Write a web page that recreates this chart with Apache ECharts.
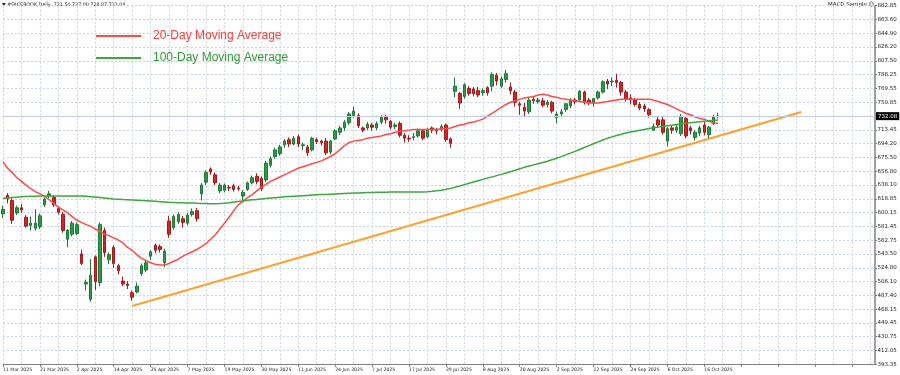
<!DOCTYPE html>
<html><head><meta charset="utf-8">
<script src="https://cdn.jsdelivr.net/npm/echarts@6/dist/echarts.min.js"></script>
<style>html,body{margin:0;padding:0;background:#fff}#c{width:900px;height:375px}</style>
</head><body><div id="c"></div><script>
const dates = [
'11 Mar 2025','12 Mar 2025','13 Mar 2025','14 Mar 2025','17 Mar 2025','18 Mar 2025','19 Mar 2025','20 Mar 2025','21 Mar 2025','24 Mar 2025','25 Mar 2025','26 Mar 2025','27 Mar 2025','28 Mar 2025','31 Mar 2025',
'1 Apr 2025','2 Apr 2025','3 Apr 2025','4 Apr 2025','7 Apr 2025','8 Apr 2025','9 Apr 2025','10 Apr 2025','11 Apr 2025','14 Apr 2025','15 Apr 2025','16 Apr 2025','17 Apr 2025','21 Apr 2025','22 Apr 2025','23 Apr 2025','24 Apr 2025','25 Apr 2025','28 Apr 2025','29 Apr 2025','30 Apr 2025',
'1 May 2025','2 May 2025','5 May 2025','6 May 2025','7 May 2025','8 May 2025','9 May 2025','12 May 2025','13 May 2025','14 May 2025','15 May 2025','16 May 2025','19 May 2025','20 May 2025','21 May 2025','22 May 2025','23 May 2025','27 May 2025','28 May 2025','29 May 2025','30 May 2025',
'2 Jun 2025','3 Jun 2025','4 Jun 2025','5 Jun 2025','6 Jun 2025','9 Jun 2025','10 Jun 2025','11 Jun 2025','12 Jun 2025','13 Jun 2025','16 Jun 2025','17 Jun 2025','18 Jun 2025','20 Jun 2025','23 Jun 2025','24 Jun 2025','25 Jun 2025','26 Jun 2025','27 Jun 2025','30 Jun 2025',
'1 Jul 2025','2 Jul 2025','3 Jul 2025','7 Jul 2025','8 Jul 2025','9 Jul 2025','10 Jul 2025','11 Jul 2025','14 Jul 2025','15 Jul 2025','16 Jul 2025','17 Jul 2025','18 Jul 2025','21 Jul 2025','22 Jul 2025','23 Jul 2025','24 Jul 2025','25 Jul 2025','28 Jul 2025','29 Jul 2025','30 Jul 2025','31 Jul 2025',
'1 Aug 2025','4 Aug 2025','5 Aug 2025','6 Aug 2025','7 Aug 2025','8 Aug 2025','11 Aug 2025','12 Aug 2025','13 Aug 2025','14 Aug 2025','15 Aug 2025','18 Aug 2025','19 Aug 2025','20 Aug 2025','21 Aug 2025','22 Aug 2025','25 Aug 2025','26 Aug 2025','27 Aug 2025','28 Aug 2025','29 Aug 2025',
'2 Sep 2025','3 Sep 2025','4 Sep 2025','5 Sep 2025','8 Sep 2025','9 Sep 2025','10 Sep 2025','11 Sep 2025','12 Sep 2025','15 Sep 2025','16 Sep 2025','17 Sep 2025','18 Sep 2025','19 Sep 2025','22 Sep 2025','23 Sep 2025','24 Sep 2025','25 Sep 2025','26 Sep 2025','29 Sep 2025','30 Sep 2025',
'1 Oct 2025','2 Oct 2025','3 Oct 2025','6 Oct 2025','7 Oct 2025','8 Oct 2025','9 Oct 2025','10 Oct 2025','13 Oct 2025','14 Oct 2025','15 Oct 2025','16 Oct 2025','17 Oct 2025','20 Oct 2025','21 Oct 2025'];

const opens = [599,624,617,600,607,594,583,579,581,611,
623,621,606,598,564,571,572,544,503,482,
540,505,576,536,553,528,507,503,491,492,
517,522,541,556,554,532,589,580,588,592,
586,598,603,626,642,660,652,630,631,635,
637,634,623,632,641,650,647,645,665,677,
681,693,700,694,704,692,690,686,700,698,
698,683,701,710,716,723,733,733,716,716,
720,716,724,731,725,718,722,706,702,703,
705,712,704,716,713,714,720,701,766,763,
759,770,769,767,764,771,773,788,773,782,
772,765,749,744,738,755,752,753,748,751,
730,735,741,746,754,754,765,754,750,757,
765,780,779,781,778,765,757,754,748,746,
741,713,727,727,698,716,713,708,729,716,
703,709,720,707,722,731.5];
const highs = [610,627,620,610,612,597,595,605,599,621,
630,624,609,601,578,589,587,550,509,537,
542,587,580,546,556,530,513,507,494,505,
531,535,549,558,557,551,596,598,601,596,
600,606,607,641,658,662,655,641,640,638,
640,637,631,643,651,654,650,671,677,689,
693,701,703,705,707,696,693,704,703,700,
702,700,714,719,727,738,745,736,718,724,
723,725,734,734,727,723,725,709,706,709,
715,714,716,718,716,721,722,703,785,765,
777,773,772,772,770,773,792,791,786,795,
778,768,752,750,758,759,757,757,754,753,
738,742,750,757,757,768,767,757,757,767,
781,783,785,790,780,768,762,757,751,749,
743,722,731,731,717,719,720,735,731,719,
713,719,724,719,734,737];
const lows = [593,613,585,597,600,580,576,576,578,608,
620,608,598,573,553,568,570,529,494,479,
495,500,540,530,525,516,500,496,480,490,
514,519,536,545,546,526,566,577,585,580,
583,595,588,617,638,652,638,627,628,630,
629,630,617,630,639,639,630,642,662,674,
678,689,690,692,690,686,678,684,694,692,
679,680,699,706,712,720,730,716,710,713,
712,713,721,722,714,714,703,696,697,699,
703,699,702,709,707,711,697,689,758,742,
756,760,759,758,760,760,766,774,770,778,
762,745,734,731,735,749,749,744,744,736,
722,731,738,743,748,752,748,747,745,755,
763,769,773,771,760,752,748,745,740,738,
730,712,716,707,691,708,709,705,702,707,
699,705,706,702,720,728.87];
const closes = [605,619,590,607,604,582,586,586,596,619,
626,611,601,576,576,586,584,531,505,515,
506,584,546,543,531,521,503,501,485,500,
528,532,547,549,550,548,571,595,598,587,
597,602,592,638,655,656,641,638,638,634,
632,633,628,641,648,643,633,668,674,686,
690,698,694,702,694,693,682,702,697,696,
682,698,712,716,724,735,739,719,713,721,
717,722,731,727,717,720,706,702,701,704,
712,702,714,713,712,718,700,695,773,750,
775,763,763,761,767,764,789,780,783,790,
767,751,747,739,754,753,754,747,751,739,
735,738,749,753,752,766,752,751,756,765,
779,776,780,778,765,755,754,748,743,742,
734,718,720,710,715,713,717,732,705,712,
710,716,710,717,731,732.08];

const ma20 = [670,661,655,648,643,638,633,629,626,623,
618,613,608,604,600,595,590,587,584,582,
578,575,571,569,566,563,559,553,549,543,
538,535,532,530,529,529,531,534,537,541,
544,547,550,554,558,564,570,578,586,594,
603,611,616,621,625,630,635,639,643,646,
649,652,655,658,661,663,665,667,669,671,
674,677,681,686,692,696,698,699,700,702,
703,704,705,707,708,710,711,712,713,714,
714,714,714,714,714,715,715,716,718,720,
721,723,724,726,728,732,736,740,744,748,
751,753,755,757,758,759,761,762,761,759,
758,756,755,754,753,752,751,750,750,750,
751,752,753,754,755,755,755,755,755,755,
755,754,752,750,748,745,742,739,736,734,
731,729,728,725,723,722];
const ma100 = [620,620.5,621,621.5,622,622.3,622.6,622.8,623,623,
623,623,623,623,623,623,623,623,622.6,622.2,
621.6,621,620.3,619.6,619,618.6,618.2,617.9,617.6,617.3,
617,616.6,616.2,615.8,615.4,615,614.6,614.3,614,613.8,
613.6,613.4,613.2,613,612.8,612.6,612.5,612.8,613.3,614,
614.8,615.6,616.4,617.2,617.8,618.4,619,619.6,620.2,620.8,
621.4,621.9,622.3,622.7,623.1,623.5,623.9,624.3,624.7,625,
625.3,625.6,625.9,626.2,626.5,626.8,627.1,627.3,627.5,627.7,
627.9,628.1,628.2,628.3,628.4,628.4,628.4,628.4,628.4,628.4,
628.5,628.7,629,629.5,630.2,631,632.2,633.5,635,636.8,
638.6,640.4,642.2,644,645.8,647.5,649.2,650.9,652.6,654.4,
656.3,658.2,660.2,662.2,664,665.6,667.2,668.8,670.6,672.6,
674.6,676.8,679.2,681.6,684,686.6,689.2,691.8,694.4,697,
699.6,701.8,703.8,705.6,707.4,709,710.4,711.6,712.8,714,
715.1,716.1,717.1,718,718.9,719.8,720.7,721.6,722.4,723.1,
723.8,724.5,725.1,725.7,726.2,726.7];

const trendIdx = [28, 173];
const trendVal = [473.0, 737.7];

const yTickLabels = ['393.35','412.05','430.75','449.45','468.15','487.40','506.10','524.80','543.50','562.75','581.45','600.15','618.85','638.10','656.80','675.50','694.20','713.45','732.15','750.85','769.55','788.25','807.50','826.20','844.90','863.60','882.85'];
const lastPrice = 732.08;
const headerText = '\u25BC #FACEBOOK,Daily  731.50 737.00 728.87 732.08';
const cornerText = 'MACD Sample \u263A';
const ma20Name = '20-Day Moving Average';
const ma100Name = '100-Day Moving Average';

const futureSlots = 34;
const cats = dates.concat(Array.from({length: futureSlots}, (_, k) => '+' + (k + 1)));
const yMin = 393.35, yMax = 882.85;
const yStep = (yMax - yMin) / (yTickLabels.length - 1);
const candles = dates.map((d, i) => [opens[i], closes[i], lows[i], highs[i]]);
const gridCol = '#ccd5e6';

const chart = echarts.init(document.getElementById('c'), null, {renderer: 'canvas'});
chart.setOption({
  animation: false,
  backgroundColor: '#ffffff',
  grid: {left: 2, right: 25, top: 5.7, bottom: 10.7, containLabel: false},
  legend: {
    orient: 'vertical', left: 96, top: 30, padding: 0, itemWidth: 45, itemHeight: 2, itemGap: 10,
    icon: 'rect', selectedMode: false,
    textStyle: {fontSize: 12, fontFamily: 'Liberation Sans', padding: [0, 0, 0, 7]},
    data: [
      {name: ma20Name, textStyle: {color: '#ff3b3b'}},
      {name: ma100Name, textStyle: {color: '#2f9a35'}}
    ]
  },
  xAxis: {
    type: 'category', data: cats, boundaryGap: false,
    axisLine: {show: true, lineStyle: {color: '#808080', width: 1}},
    axisTick: {show: true, interval: 7, length: 2.5, lineStyle: {color: '#808080'}},
    axisLabel: {interval: 7, align: 'left', fontSize: 4.6, margin: 3, color: '#222',
      fontFamily: 'DejaVu Sans', formatter: v => v.charAt(0) === '+' ? '' : v},
    splitLine: {show: true, interval: 3, lineStyle: {color: gridCol, type: [2, 2], width: 1}}
  },
  yAxis: {
    type: 'value', position: 'right', min: yMin, max: yMax, interval: yStep, scale: false,
    axisLine: {show: true, lineStyle: {color: '#808080', width: 1.5}},
    axisTick: {show: true, length: 2, lineStyle: {color: '#808080'}},
    axisLabel: {fontSize: 5.5, margin: 2.5, color: '#222', fontFamily: 'DejaVu Sans',
      formatter: v => { const k = Math.round((v - yMin) / yStep); return (Math.abs(yMin + k * yStep - v) < 0.5 && yTickLabels[k]) ? yTickLabels[k] : ''; }},
    splitLine: {show: true, lineStyle: {color: gridCol, type: [2, 2], width: 1}}
  },
  graphic: [
    {type: 'text', left: 2, top: 2, style: {text: headerText, fontSize: 4.8, fontFamily: 'DejaVu Sans', fill: '#222'}},
    {type: 'text', left: 828, top: 2, style: {text: cornerText, fontSize: 5.5, fontFamily: 'DejaVu Sans', fill: '#222'}}
  ],
  series: [
    {
      type: 'line', name: 'trend', data: trendIdx.map((x, i) => [x, trendVal[i]]),
      symbol: 'none', lineStyle: {color: '#ffa12e', width: 2}, z: 1, silent: true
    },
    {
      type: 'candlestick', name: 'price', data: candles, barWidth: 3, z: 3,
      itemStyle: {color: '#2c9a48', color0: '#d42424', borderColor: '#1f7a36', borderColor0: '#a51a1a', borderWidth: 1},
      markLine: {
        symbol: 'none', silent: true, animation: false,
        lineStyle: {color: '#c3cce0', type: 'solid', width: 1},
        label: {position: 'end', formatter: lastPrice.toFixed(2), backgroundColor: '#000', color: '#fff',
          fontSize: 5.5, fontFamily: 'DejaVu Sans', padding: [1, 2, 1, 2], distance: 1},
        data: [{yAxis: lastPrice}]
      }
    },
    {type: 'line', name: ma20Name, data: ma20, symbol: 'none', color: '#ff4a4a',
      lineStyle: {color: '#ff4a4a', width: 1.5}, z: 4},
    {type: 'line', name: ma100Name, data: ma100, symbol: 'none', color: '#3ea63e',
      lineStyle: {color: '#3ea63e', width: 1.5}, z: 4}
  ]
});
</script></body></html>
